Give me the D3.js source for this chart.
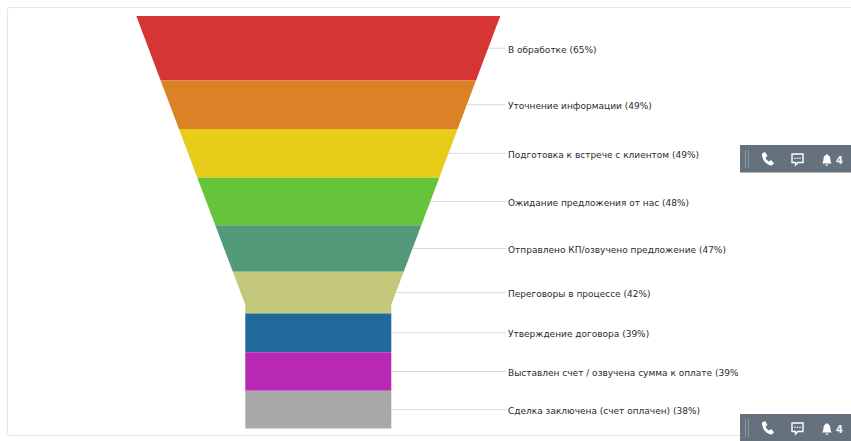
<!DOCTYPE html>
<html>
<head>
<meta charset="utf-8">
<script src="https://cdn.jsdelivr.net/npm/d3@7"></script>
<style>
  html, body { margin: 0; padding: 0; background: #fff; overflow: hidden; }
  svg { display: block; }
</style>
</head>
<body>
<svg></svg>
<script>
// Stages of the funnel, top to bottom
const stages = [
  "В обработке",
  "Уточнение информации",
  "Подготовка к встрече с клиентом",
  "Ожидание предложения от нас",
  "Отправлено КП/озвучено предложение",
  "Переговоры в процессе",
  "Утверждение договора",
  "Выставлен счет / озвучена сумма к оплате",
  "Сделка заключена (счет оплачен)",
];
const percents = [65, 49, 49, 48, 47, 42, 39, 39, 38];
const colors = ["#d63633", "#dc8126", "#e8cc1a", "#66c43b", "#529a79", "#c4c87b", "#21689b", "#b928b5", "#a9a9a9"];
const neckShare = 0.7; // funnel narrows until 70% of its height

const width = 851;
const height = 441;
const funnelTop = 16;
const funnelBottom = 428.5;
const centerX = 318.3;
const labelX = 508;
const widgetTops = [145, 414];

const svg = d3.select("svg").attr("width", width).attr("height", height);

// Outer card
svg.append("rect")
  .attr("x", 7.5).attr("y", 7.5)
  .attr("width", 860).attr("height", 428)
  .attr("rx", 2)
  .attr("fill", "#fff")
  .attr("stroke", "#e3e7ea");

// Running totals give the top and bottom of every slice
const total = d3.sum(percents);
let running = 0;
const slices = stages.map((name, i) => {
  const slice = { name, value: percents[i], color: colors[i], start: running };
  running += percents[i];
  slice.end = running;
  return slice;
});

const y = d3.scaleLinear().domain([0, total]).range([funnelTop, funnelBottom]);
const halfWidth = d3.scaleLinear()
  .domain([0, total * neckShare])
  .range([182, 73])
  .clamp(true);

function slicePath(d) {
  const points = [[d.start, -1], [d.start, 1]];
  // add a corner where the neck begins
  if (d.start < total * neckShare && d.end > total * neckShare) {
    points.push([total * neckShare, 1], [d.end, 1], [d.end, -1], [total * neckShare, -1]);
  } else {
    points.push([d.end, 1], [d.end, -1]);
  }
  return d3.line()
    .x((p) => centerX + p[1] * halfWidth(p[0]))
    .y((p) => y(p[0]))
    .curve(d3.curveLinearClosed)(points);
}

// Draw the slices
svg.append("g")
  .selectAll("path")
  .data(slices)
  .join("path")
  .attr("d", slicePath)
  .attr("fill", (d) => d.color);

const mid = (d) => (d.start + d.end) / 2;

// Connectors
svg.append("g")
  .selectAll("line")
  .data(slices)
  .join("line")
  .attr("x1", (d) => centerX + halfWidth(mid(d)))
  .attr("x2", labelX - 2)
  .attr("y1", (d) => y(mid(d)))
  .attr("y2", (d) => y(mid(d)))
  .attr("stroke", "#d9d9d9");

// Labels, cut off where the chart area ends
svg.append("clipPath")
  .attr("id", "label-clip")
  .append("rect")
  .attr("x", 0).attr("y", 0)
  .attr("width", 738.5).attr("height", height);

svg.append("g")
  .attr("clip-path", "url(#label-clip)")
  .selectAll("text")
  .data(slices)
  .join("text")
  .attr("x", labelX)
  .attr("y", (d) => Math.round(y(mid(d)) + 4.5))
  .attr("font-family", "'DejaVu Sans', Verdana, sans-serif")
  .attr("font-size", "9px")
  .attr("fill", "#2b2b2b")
  .text((d) => `${d.name} (${d.value}%)`);

// Floating phone / chat / bell widgets over the page
const widget = svg.append("g")
  .selectAll("g")
  .data(widgetTops)
  .join("g")
  .attr("transform", (d) => `translate(740,${d})`);

widget.append("rect")
  .attr("width", 111).attr("height", 27.5)
  .attr("fill", "#66717e");

widget.append("path")
  .attr("d", "M5.5 5V23M8.5 5V23")
  .attr("stroke", "#8d97a3")
  .attr("fill", "none");

widget.append("path")
  .attr("d", "M22 8.5l3-1.5 2.5 4-2 1.5c.6 1.8 1.8 3.2 3.5 4l2-1.6 3 3.4-2.3 2.2c-5.4-.3-10.2-6.2-9.7-12z")
  .attr("fill", "#fff");

widget.append("path")
  .attr("d", "M52 9h11v8.5h-5l-2.5 2.5v-2.5H52z")
  .attr("fill", "none")
  .attr("stroke", "#fff")
  .attr("stroke-width", 1.4);

widget.selectAll("circle")
  .data([55, 57.5, 60])
  .join("circle")
  .attr("cx", (d) => d)
  .attr("cy", 13.2)
  .attr("r", 0.8)
  .attr("fill", "#fff");

widget.append("path")
  .attr("d", "M82 18.5c1.3-1.2 1.3-3 1.5-4.8 .2-2.2 1-3.4 2.6-3.8 .2-1.2 1.4-1.2 1.6 0 1.6 .4 2.4 1.6 2.6 3.8 .2 1.8 .2 3.6 1.5 4.8zM85.4 19.4h3c-.3 1.7-2.7 1.7-3 0z")
  .attr("fill", "#fff");

widget.append("text")
  .attr("x", 96)
  .attr("y", 18.5)
  .attr("font-family", "'DejaVu Sans', Verdana, sans-serif")
  .attr("font-size", "10px")
  .attr("font-weight", "bold")
  .attr("fill", "#f4f5f6")
  .text("4");
</script>
</body>
</html>
